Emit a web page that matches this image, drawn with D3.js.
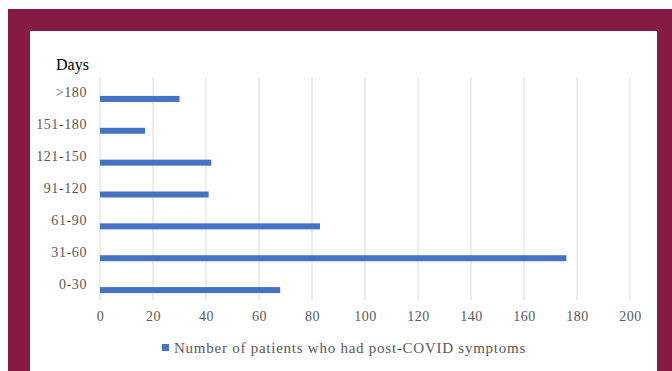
<!DOCTYPE html>
<html>
<head>
<meta charset="utf-8">
<script src="https://cdn.jsdelivr.net/npm/d3@7"></script>
<style>
  html, body { margin: 0; padding: 0; background: #ffffff; }
  svg { display: block; }
</style>
</head>
<body>
<svg id="chart" width="672" height="371"></svg>
<script>
// Duration after COVID-19 (days), listed top to bottom
const categories = [">180", "151-180", "121-150", "91-120", "61-90", "31-60", "0-30"];
// Number of patients who had post-COVID symptoms
const patients = [30, 17, 42, 41, 83, 176, 68];
const xTicks = [0, 20, 40, 60, 80, 100, 120, 140, 160, 180, 200];
const seriesName = "Number of patients who had post-COVID symptoms";
const axisTitle = "Days";

const svg = d3.select("#chart");
const W = 672, H = 371;
const serif = "'Liberation Serif', 'Times New Roman', serif";

// Maroon frame with a white panel
svg.append("rect").attr("x", 8).attr("y", 9).attr("width", W - 8).attr("height", H - 9).attr("fill", "#851a42");
svg.append("rect").attr("x", 30).attr("y", 31).attr("width", 627).attr("height", H - 31).attr("fill", "#ffffff");

const plot = { left: 100, right: 630, top: 77, bottom: 300 };

const x = d3.scaleLinear().domain([0, 200]).range([plot.left, plot.right]);
const y = d3.scaleBand().domain(categories).range([plot.top, plot.bottom]);

// Vertical gridlines
svg.append("g")
  .selectAll("line")
  .data(xTicks)
  .join("line")
  .attr("x1", d => x(d)).attr("x2", d => x(d))
  .attr("y1", plot.top).attr("y2", plot.bottom)
  .attr("stroke", "#d9d9d9").attr("stroke-width", 1);

// X axis tick labels
const xAxis = d3.axisBottom(x).tickValues(xTicks).tickSize(0).tickPadding(11);
const gx = svg.append("g").attr("transform", `translate(0,${plot.bottom})`).call(xAxis);
gx.select(".domain").remove();
gx.selectAll("text")
  .attr("font-family", serif).attr("font-size", 14).attr("fill", "#595959")
  .attr("letter-spacing", 0.5);

// Y axis category labels
const yAxis = d3.axisLeft(y).tickSize(0).tickPadding(13);
const gy = svg.append("g").attr("transform", `translate(${plot.left},0)`).call(yAxis);
gy.select(".domain").remove();
gy.selectAll("text")
  .attr("font-family", serif).attr("font-size", 14).attr("fill", "#595959")
  .attr("letter-spacing", 0.6);

// Bars (sit in the lower part of each category band)
const barH = 6;
svg.append("g")
  .selectAll("rect")
  .data(categories.map((c, i) => ({ c, v: patients[i] })))
  .join("rect")
  .attr("x", x(0))
  .attr("y", d => y(d.c) + y.bandwidth() / 2 + 3)
  .attr("width", d => x(d.v) - x(0))
  .attr("height", barH)
  .attr("fill", "#4472c4");

// Axis title
svg.append("text")
  .attr("x", 56).attr("y", 70)
  .attr("font-family", serif).attr("font-size", 16).attr("fill", "#000000")
  .text(axisTitle);

// Legend
svg.append("rect").attr("x", 162).attr("y", 344).attr("width", 7).attr("height", 7).attr("fill", "#4472c4");
svg.append("text")
  .attr("x", 174).attr("y", 353)
  .attr("font-family", serif).attr("font-size", 15).attr("fill", "#595959")
  .attr("letter-spacing", 0.75)
  .text(seriesName);
</script>
</body>
</html>
